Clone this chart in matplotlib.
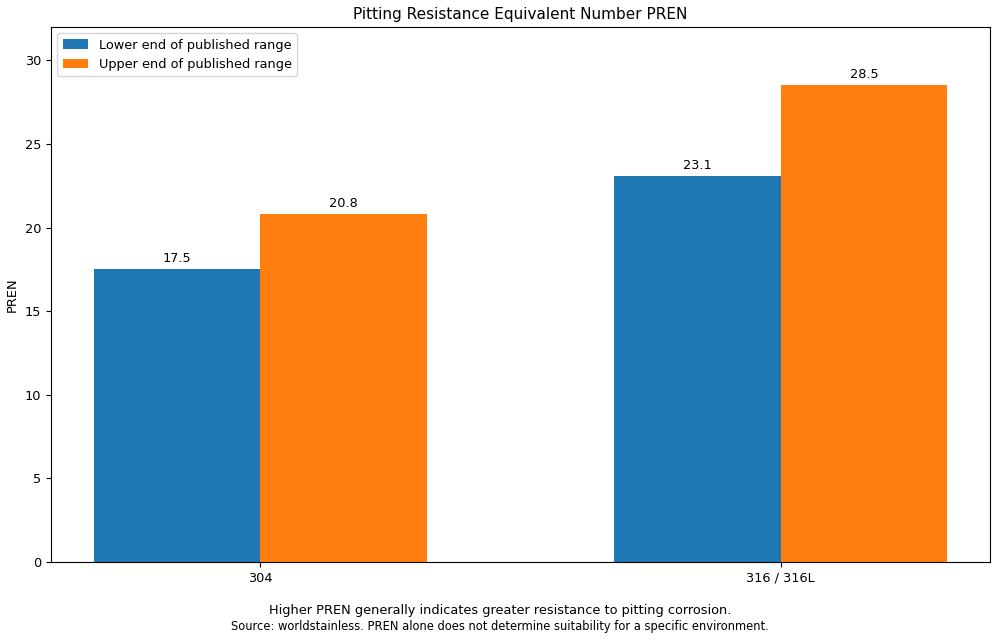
import matplotlib.pyplot as plt
import numpy as np

grades = ["304", "316 / 316L"]
lower_vals = [17.5, 23.1]
upper_vals = [20.8, 28.5]
series_names = ["Lower end of published range", "Upper end of published range"]

plt.rcParams["font.size"] = 9.3

x = np.arange(len(grades))
width = 0.32

fig = plt.figure(figsize=(10, 6.4), dpi=100)
ax = fig.add_axes([0.051, 0.122, 0.939, 0.836])

b1 = ax.bar(x - width / 2, lower_vals, width, label=series_names[0], color="#1f77b4")
b2 = ax.bar(x + width / 2, upper_vals, width, label=series_names[1], color="#ff7f0e")
ax.bar_label(b1, fmt="%.1f", padding=3)
ax.bar_label(b2, fmt="%.1f", padding=3)

ax.set_xticks(x)
ax.set_xticklabels(grades)
ax.set_ylim(0, 32)
ax.set_ylabel("PREN")
ax.set_title("Pitting Resistance Equivalent Number PREN", fontsize=11)
ax.legend(loc="upper left")

fig.text(0.5, 0.04, "Higher PREN generally indicates greater resistance to pitting corrosion.",
         ha="center", fontsize=9.3)
fig.text(0.5, 0.016, "Source: worldstainless. PREN alone does not determine suitability for a specific environment.",
         ha="center", fontsize=8.3)

fig.savefig("out.png", dpi=100)
